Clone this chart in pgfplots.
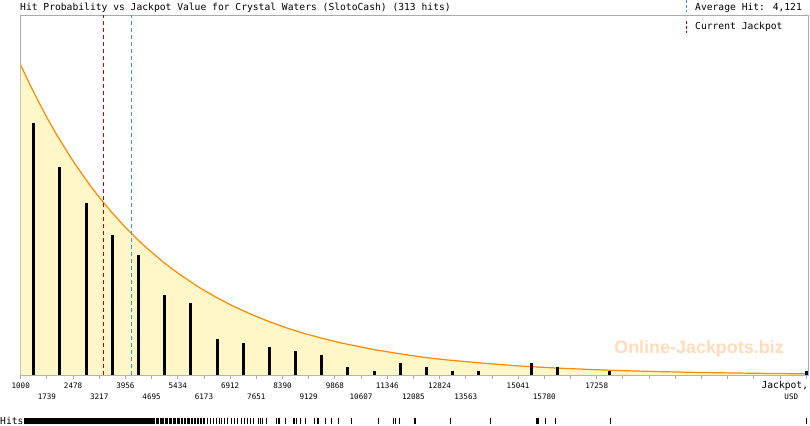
\documentclass[border=0pt]{standalone}
\usepackage{pgfplots}
\pgfplotsset{compat=1.18}
\usepackage{fontspec}
\setmainfont{DejaVu Sans Mono}
\newfontfamily\wmfont{Liberation Sans}
\definecolor{fillyel}{HTML}{FFF7C8}
\definecolor{curveor}{HTML}{FF8800}
\definecolor{framegray}{HTML}{AAAAAA}
\definecolor{curred}{HTML}{CC0000}
\definecolor{avgblue}{HTML}{3399CC}
\definecolor{wmcol}{HTML}{FFDCB9}
\newcommand{\lo}[1]{\raisebox{-10.8bp}{#1}}
\begin{document}
\begin{tikzpicture}[x=1bp,y=1bp]
\path[use as bounding box] (0,0) rectangle (810,425);
\node[anchor=base west, inner sep=0pt, font=\fontsize{9.7}{11}\selectfont] at (20,414) {Hit Probability vs Jackpot Value for Crystal Waters (SlotoCash) (313 hits)};
\node[anchor=base west, inner sep=0pt, font=\fontsize{9.7}{11}\selectfont] at (0,1) {Hits:};
\begin{axis}[
  at={(20.7bp,50bp)}, anchor=south west,
  scale only axis, width=787.6bp, height=360bp,
  xmin=1000, xmax=23232, ymin=0, ymax=90,
  scaled x ticks=false, scaled y ticks=false,
  axis line style={framegray, line width=0.8bp},
  xtick={1000,1739,2478,3217,3956,4695,5434,6173,6912,7651,8390,9129,9868,10607,11346,12085,12824,13563,14302,15041,15780,16519,17258,17997,18736,19475,20214,20953,21692,22431,23170},
  xticklabels={1000,\lo{1739},2478,\lo{3217},3956,\lo{4695},5434,\lo{6173},6912,\lo{7651},8390,\lo{9129},9868,\lo{10607},11346,\lo{12085},12824,\lo{13563},{},15041,\lo{15780},{},17258,{},{},{},{},{},{},{},{}},
  xtick pos=left, ytick=\empty,
  tick align=outside, major tick length=4bp,
  tick style={framegray, line width=0.8bp},
  xticklabel style={font=\fontsize{7.6}{8}\selectfont, anchor=base, yshift=-9.5bp, inner sep=0pt},
  xlabel={\fontsize{9.7}{10}\selectfont Jackpot,\llap{\raisebox{-10.5bp}{\fontsize{7.6}{8}\selectfont USD\hspace*{10bp}}}},
  xlabel style={at={(rel axis cs:1,0)}, anchor=base east, yshift=-13.5bp, inner sep=0pt},
  clip=true,
]
\addplot[draw=none, fill=fillyel] coordinates {(1000,77.5)(1250,72.8)(1500,68.4)(1750,64.2)(2000,60.3)(2250,56.7)(2500,53.2)(2750,50.0)(3000,46.9)(3250,44.1)(3500,41.4)(3750,38.9)(4000,36.5)(4250,34.3)(4500,32.2)(4750,30.3)(5000,28.4)(5250,26.7)(5500,25.1)(5750,23.6)(6000,22.1)(6500,19.5)(7000,17.2)(7500,15.2)(8000,13.4)(8500,11.8)(9000,10.4)(9500,9.2)(10000,8.1)(10500,7.2)(11000,6.3)(11500,5.6)(12000,4.9)(12500,4.3)(13000,3.8)(14000,3.0)(15000,2.3)(16000,1.8)(17000,1.4)(18000,1.09)(19000,0.85)(20000,0.66)(21000,0.52)(22000,0.40)(23232,0.29)} \closedcycle;
\addplot[curveor, line width=1.2bp] coordinates {(1000,77.5)(1250,72.8)(1500,68.4)(1750,64.2)(2000,60.3)(2250,56.7)(2500,53.2)(2750,50.0)(3000,46.9)(3250,44.1)(3500,41.4)(3750,38.9)(4000,36.5)(4250,34.3)(4500,32.2)(4750,30.3)(5000,28.4)(5250,26.7)(5500,25.1)(5750,23.6)(6000,22.1)(6500,19.5)(7000,17.2)(7500,15.2)(8000,13.4)(8500,11.8)(9000,10.4)(9500,9.2)(10000,8.1)(10500,7.2)(11000,6.3)(11500,5.6)(12000,4.9)(12500,4.3)(13000,3.8)(14000,3.0)(15000,2.3)(16000,1.8)(17000,1.4)(18000,1.09)(19000,0.85)(20000,0.66)(21000,0.52)(22000,0.40)(23232,0.29)};
\addplot[curred, dash pattern=on 4bp off 3bp, line width=0.9bp] coordinates {(3332,0)(3332,90)};
\addplot[avgblue, dash pattern=on 4bp off 3bp, line width=0.9bp] coordinates {(4121,0)(4121,90)};
\addplot[ycomb, black, line width=3bp] coordinates {(1369.5,63)(2108.5,52)(2847.5,43)(3586.5,35)(4325.5,30)(5064.5,20)(5803.5,18)(6542.5,9)(7281.5,8)(8020.5,7)(8759.5,6)(9498.5,5)(10237.5,2)(10976.5,1)(11715.5,3)(12454.5,2)(13193.5,1)(13932.5,1)(15410.5,3)(16149.5,2)(17627.5,1)(23190,1)};
\end{axis}
\begin{axis}[
  at={(20.7bp,0.7bp)}, anchor=south west,
  scale only axis, width=787.6bp, height=6bp,
  xmin=1000, xmax=23232, ymin=0, ymax=1,
  scaled x ticks=false, scaled y ticks=false,
  hide axis, clip=false,
]
\addplot[ycomb, black, line width=1bp] table[row sep=\\, header=false, x index=0, y expr=1] {
1115\\1125\\1135\\1145\\1155\\1165\\1175\\1185\\1195\\1205\\1215\\1225\\1235\\1245\\1255\\1265\\1275\\1285\\1295\\1305\\1315\\1325\\1335\\1345\\1355\\1365\\1375\\1385\\1395\\1405\\1415\\1425\\1435\\1445\\1455\\1465\\1475\\1485\\1495\\1505\\1515\\1525\\1535\\1545\\1555\\1565\\1575\\1585\\1595\\1605\\1615\\1625\\1635\\1645\\1655\\1665\\1675\\1685\\1695\\1705\\1715\\1725\\1735\\
1745\\1759\\1773\\1787\\1801\\1815\\1829\\1843\\1857\\1871\\1885\\1899\\1913\\1927\\1941\\1955\\1969\\1983\\1997\\2011\\2025\\2039\\2053\\2067\\2081\\2095\\2109\\2123\\2137\\2151\\2165\\2179\\2193\\2207\\2221\\2235\\2249\\2263\\2277\\2291\\2305\\2319\\2333\\2347\\2361\\2375\\2389\\2403\\2417\\2431\\2445\\2459\\
2485\\2502\\2519\\2536\\2553\\2570\\2587\\2604\\2621\\2638\\2655\\2672\\2689\\2706\\2723\\2740\\2757\\2774\\2791\\2808\\2825\\2842\\2859\\2876\\2893\\2910\\2927\\2944\\2961\\2978\\2995\\3012\\3029\\3046\\3063\\3080\\3097\\3114\\3131\\3148\\3165\\3182\\3199\\
3225\\3246\\3267\\3288\\3309\\3330\\3351\\3372\\3393\\3414\\3435\\3456\\3477\\3498\\3519\\3540\\3561\\3582\\3603\\3624\\3645\\3666\\3687\\3708\\3729\\3750\\3771\\3792\\3813\\3834\\3855\\3876\\3897\\3918\\3939\\
3965\\3990\\4015\\4040\\4065\\4090\\4115\\4140\\4165\\4190\\4215\\4240\\4265\\4290\\4315\\4340\\4365\\4390\\4415\\4440\\4465\\4490\\4515\\4540\\4565\\4590\\4615\\4640\\4665\\4690\\
4710\\4747\\4784\\4821\\4858\\4895\\4932\\4969\\5006\\5043\\5080\\5117\\5154\\5191\\5228\\5265\\5302\\5339\\5376\\5413\\
5450\\5491\\5532\\5573\\5614\\5655\\5696\\5737\\5778\\5819\\5860\\5901\\5942\\5983\\6024\\6065\\6106\\6147\\
6200\\6280\\6360\\6440\\6520\\6600\\6680\\6760\\6840\\
6950\\7040\\7130\\7220\\7310\\7400\\7490\\7580\\
7704\\7755\\7831\\7944\\8226\\8263\\8300\\
8461\\8695\\8729\\8771\\8884\\9025\\
9307\\9364\\9420\\9590\\9779\\
9965\\10343\\11094\\11518\\11566\\11679\\12102\\12150\\13118\\14248\\
15546\\15583\\15611\\15800\\16082\\17655\\23187\\
};
\end{axis}
\draw[avgblue, dash pattern=on 3bp off 2bp, line width=0.9bp] (686,425) -- (686,412.7);
\node[anchor=base west, inner sep=0pt, font=\fontsize{9.7}{11}\selectfont] at (695,414.3) {Average Hit: 4,121};
\draw[curred, dash pattern=on 3bp off 2bp, line width=0.9bp] (686,404.3) -- (686,392.3);
\node[anchor=base west, inner sep=0pt, font=\fontsize{9.7}{11}\selectfont] at (695,395) {Current Jackpot};
\node[font=\wmfont\bfseries\fontsize{18}{18}\selectfont, text=wmcol] at (699,76.5) {Online-Jackpots.biz};
\end{tikzpicture}
\end{document}
